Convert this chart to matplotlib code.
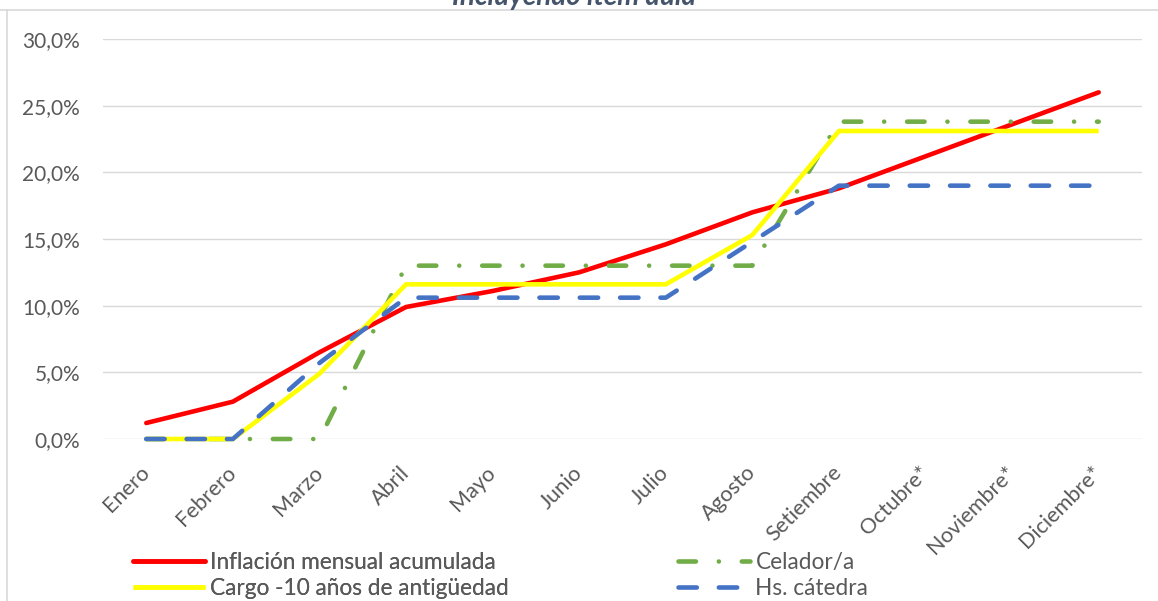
import matplotlib
matplotlib.use("Agg")
import matplotlib.pyplot as plt
from matplotlib.lines import Line2D
from matplotlib.ticker import FuncFormatter

plt.rcParams['font.family'] = ['Lato', 'DejaVu Sans']

# datos (proporciones)
meses = ['Enero', 'Febrero', 'Marzo', 'Abril', 'Mayo', 'Junio', 'Julio',
         'Agosto', 'Setiembre', 'Octubre*', 'Noviembre*', 'Diciembre*']
inflacion = [0.012, 0.028, 0.065, 0.099, 0.111, 0.125, 0.146, 0.170,
             0.188, 0.212, 0.236, 0.260]
celador = [0.0, 0.0, 0.0, 0.130, 0.130, 0.130, 0.130, 0.130,
           0.238, 0.238, 0.238, 0.238]
cargo = [0.0, 0.0, 0.049, 0.116, 0.116, 0.116, 0.116, 0.153,
         0.231, 0.231, 0.231, 0.231]
hs_catedra = [0.0, 0.0, 0.057, 0.106, 0.106, 0.106, 0.106, 0.148,
              0.190, 0.190, 0.190, 0.190]
y_ticks = [0.0, 0.05, 0.10, 0.15, 0.20, 0.25, 0.30]

gris = '#595959'
fs = 15.0

fig = plt.figure(figsize=(11.58, 6.01), dpi=100)
ax = fig.add_axes([103 / 1158, 1 - 439 / 601, (1142 - 103) / 1158, (439 - 39) / 601])

x = list(range(len(meses)))
lw = 3.3
l_inf, = ax.plot(x, inflacion, color='#FF0000', lw=lw, solid_capstyle='round',
                 solid_joinstyle='round', clip_on=False, zorder=3)
l_cel, = ax.plot(x, celador, color='#70AD47', lw=lw, dash_capstyle='round',
                 dashes=(3.8, 5.0, 0.01, 5.0), clip_on=False, zorder=4)
l_car, = ax.plot(x, cargo, color='#FFFF00', lw=lw, solid_capstyle='butt',
                 solid_joinstyle='miter', clip_on=False, zorder=5)
l_hs, = ax.plot(x, hs_catedra, color='#4472C4', lw=lw, dash_capstyle='round',
                dashes=(4.0, 4.8), clip_on=False, zorder=6)

ax.set_xlim(-0.5, len(meses) - 0.5)
ax.set_ylim(0, 0.30)
ax.set_yticks(y_ticks)
ax.yaxis.set_major_formatter(FuncFormatter(lambda v, p: f'{v * 100:.1f}%'.replace('.', ',')))
ax.grid(axis='y', color='#D9D9D9', lw=1.0)
ax.set_axisbelow(True)
for s in ax.spines.values():
    s.set_visible(False)
ax.tick_params(axis='y', length=0, pad=16.5, labelsize=fs, labelcolor=gris)
ax.tick_params(axis='x', length=0, pad=22, labelsize=15.6, labelcolor=gris)
ax.set_xticks(x)
ax.set_xticklabels(meses, rotation=45, ha='right', va='center', rotation_mode='anchor')

# marco recortado de la imagen
fig.add_artist(Line2D([0, 1], [1 - 10 / 601, 1 - 10 / 601], color='#D9D9D9', lw=1.2))
fig.add_artist(Line2D([7 / 1158, 7 / 1158], [0, 1 - 10 / 601], color='#D9D9D9', lw=1.2))

# titulo (cortado arriba, como en el original)
fig.text(574 / 1158, 1 - 5 / 601, 'Incluyendo ítem aula', ha='center', va='baseline',
         fontsize=20, fontweight='bold', fontstyle='italic', color='#44546A')

leg_kw = dict(frameon=False, fontsize=16.3, handlelength=3.2, handletextpad=0.22,
              labelspacing=0.2, borderpad=0, borderaxespad=0, labelcolor=gris,
              loc='upper left')
leg1 = fig.legend([l_inf, l_car], ['Inflación mensual acumulada', 'Cargo -10 años de antigüedad'],
                  bbox_to_anchor=(133 / 1158, 1 - 552 / 601), **leg_kw)
fig.legend([l_cel, l_hs], ['Celador/a', 'Hs. cátedra'],
           bbox_to_anchor=(678 / 1158, 1 - 552 / 601), **leg_kw)
fig.add_artist(leg1)

fig.savefig('out.png', dpi=100)
